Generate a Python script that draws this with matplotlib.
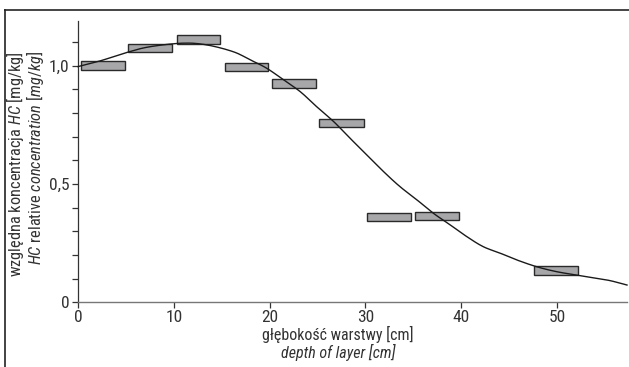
import matplotlib
matplotlib.use("Agg")
import matplotlib.pyplot as plt
import numpy as np
from matplotlib.lines import Line2D

FONT = ['Roboto Condensed', 'Liberation Sans', 'DejaVu Sans']
plt.rcParams['font.family'] = FONT
plt.rcParams['mathtext.fontset'] = 'custom'
plt.rcParams['mathtext.rm'] = 'Roboto Condensed'
plt.rcParams['mathtext.it'] = 'Roboto Condensed:italic'

# data
layer_start = [0.3, 5.2, 10.3, 15.3, 20.2, 25.2, 30.2, 35.2, 47.6]
layer_end = [4.9, 9.8, 14.8, 19.8, 24.8, 29.8, 34.8, 39.8, 52.2]
layer_conc = [1.000, 1.075, 1.110, 0.995, 0.925, 0.757, 0.360, 0.365, 0.134]

curve_x = [0.0, 2.3, 5.2, 7.5, 10.9, 13.4, 16.2, 18.0, 19.7, 21.45, 23.2, 24.9, 26.7,
           28.4, 30.15, 31.9, 33.6, 35.4, 37.1, 38.85, 40.6, 42.3, 44.1, 45.8, 47.9,
           50.0, 52.1, 54.2, 55.6, 57.3]
curve_y = [0.996, 1.02, 1.057, 1.08, 1.095, 1.088, 1.059, 1.024, 0.989, 0.940, 0.890, 0.827, 0.763,
           0.693, 0.623, 0.552, 0.489, 0.432, 0.376, 0.327, 0.277, 0.235, 0.207, 0.179, 0.150,
           0.129, 0.115, 0.101, 0.091, 0.073]

ytick_vals = [0, 0.5, 1.0]
ytick_labels = ['0', '0,5', '1,0']
xtick_vals = [0, 10, 20, 30, 40, 50]

W, H = 629, 367
fig = plt.figure(figsize=(W / 100, H / 100), dpi=100)
ax = fig.add_axes([78 / W, 1 - 302.3 / H, (627 - 78) / W, (302.3 - 20.7) / H])

bar_h = 0.036
ax.bar([(s + e) / 2 for s, e in zip(layer_start, layer_end)],
       bar_h, width=[e - s for s, e in zip(layer_start, layer_end)],
       bottom=[c - bar_h / 2 for c in layer_conc],
       color='#a7a7aa', edgecolor='#2a2a2a', linewidth=1.0, zorder=2)

def catmull(xp, yp, n=12):
    px, py = [], []
    P = list(zip(xp, yp))
    P = [P[0]] + P + [P[-1]]
    for i in range(1, len(P) - 2):
        p0, p1, p2, p3 = map(np.array, (P[i - 1], P[i], P[i + 1], P[i + 2]))
        for t in np.linspace(0, 1, n, endpoint=False):
            t2, t3 = t * t, t * t * t
            pt = 0.5 * ((2 * p1) + (-p0 + p2) * t + (2 * p0 - 5 * p1 + 4 * p2 - p3) * t2 + (-p0 + 3 * p1 - 3 * p2 + p3) * t3)
            px.append(pt[0]); py.append(pt[1])
    px.append(xp[-1]); py.append(yp[-1])
    return px, py

cx, cy = catmull(curve_x, curve_y)
ax.plot(cx, cy, color='#1a1a1a', linewidth=1.0, zorder=3, clip_on=False)

ax.set_xlim(0, 57.3)
ax.set_ylim(0, 1.19)
ax.set_xticks(xtick_vals)
ax.set_xticklabels([str(v) for v in xtick_vals])
ax.set_yticks(ytick_vals)
ax.set_yticklabels(ytick_labels)
ax.set_yticks(np.arange(0.1, 1.15, 0.1), minor=True)
ax.tick_params(axis='y', which='both', length=4, width=0.9, color='#333333', labelsize=12.5, labelcolor='#333333', pad=2)
ax.tick_params(axis='x', which='both', length=4, width=0.9, color='#333333', labelsize=12.5, labelcolor='#333333', pad=1.5)
ax.spines['top'].set_visible(False)
ax.spines['right'].set_visible(False)
ax.spines['left'].set_color('#333333')
ax.spines['bottom'].set_color('#777777')
ax.spines['left'].set_linewidth(0.9)
ax.spines['bottom'].set_linewidth(1.0)

tc = '#333333'
fig.text(338 / W, 1 - 340 / H, 'głębokość warstwy [cm]', ha='center', va='baseline', fontsize=11.5, color=tc)
fig.text(338 / W, 1 - 358 / H, 'depth of layer [cm]', ha='center', va='baseline', fontsize=11.5, color=tc, style='italic')

fig.text(21 / W, 1 - 51 / H, r'względna koncentracja $\mathit{HC}$ [mg/kg]', rotation=90, rotation_mode='anchor',
         ha='right', va='baseline', fontsize=11.8, color=tc)
fig.text(41.5 / W, 1 - 51 / H, r'$\mathit{HC}$ relative $\mathit{concentration\ [mg/kg]}$', rotation=90, rotation_mode='anchor',
         ha='right', va='baseline', fontsize=11.8, color=tc)

# outer frame (top and left)
fig.add_artist(Line2D([5.3 / W, 1], [1 - 9.5 / H, 1 - 9.5 / H], transform=fig.transFigure, color='#444444', linewidth=1.4))
fig.add_artist(Line2D([5.3 / W, 5.3 / W], [0, 1 - 9.5 / H], transform=fig.transFigure, color='#222222', linewidth=1.2))

fig.savefig('out.png', dpi=100)
